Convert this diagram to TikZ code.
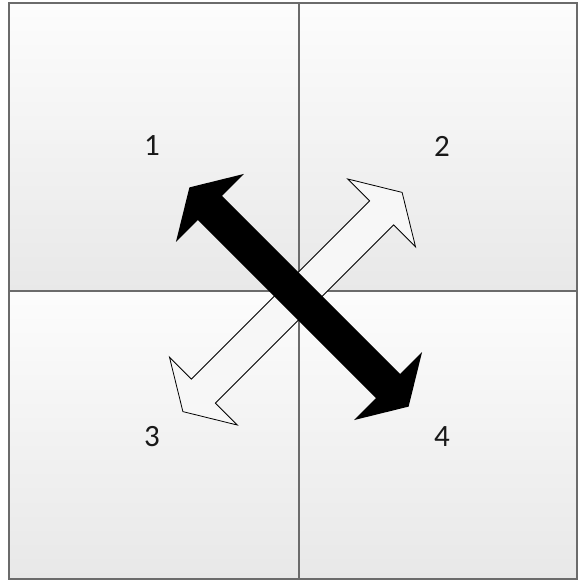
\documentclass[tikz,border=0pt]{standalone}
\usepackage{fontspec}
\setmainfont{Carlito}
\usetikzlibrary{shadows}

\tikzset{
  dblarrow/.pic={
    % shaft half width 17, head half width 48, head length 29
    \path[pic actions] (-155,0) -- (-126,48) -- (-126,17) -- (126,17) -- (126,48)
      -- (155,0) -- (126,-48) -- (126,-17) -- (-126,-17) -- (-126,-48) -- cycle;
  }
}

\begin{document}
\begin{tikzpicture}[x=1pt,y=-1pt,
  quad/.style={top color=white!99!black,bottom color=white!91!black},
  grid/.style={draw=black!58,line width=1.6pt},
  lab/.style={font=\fontsize{31}{34}\selectfont,text=black!90,inner sep=0pt},
  shade/.style={drop shadow={opacity=.25,shadow xshift=2pt,shadow yshift=-2pt}},
  blk/.style={fill=black,line join=miter,shade},
  wht/.style={draw=black,line width=.8pt,fill=white!97!black,line join=miter,shade}]
  \useasboundingbox (0,0) rectangle (579,581);
  % four panels
  \foreach \xa/\xb/\ya/\yb in {9/299/3/291, 299/577/3/291, 9/299/291/579, 299/577/291/579}
    \fill[quad] (\xa,\ya) rectangle (\xb,\yb);
  \coordinate (tl) at (9,3);
  \coordinate (br) at (577,579);
  \coordinate (mt) at (299,3);
  \coordinate (mb) at (299,579);
  \coordinate (ml) at (9,291);
  \coordinate (mr) at (577,291);
  \draw[grid] (tl) rectangle (br);
  \draw[grid] (mt) -- (mb);
  \draw[grid] (ml) -- (mr);
  % the two arrows
  \pic[wht,rotate=45] (warr) at (292.5,302) {dblarrow};
  \pic[blk,rotate=-45] (barr) at (299,297) {dblarrow};
  % panel numbers
  \node[lab] (l1) at (152,146) {1};
  \node[lab] (l2) at (442,146) {2};
  \node[lab] (l3) at (152,437) {3};
  \node[lab] (l4) at (442,437) {4};
\end{tikzpicture}
\end{document}
